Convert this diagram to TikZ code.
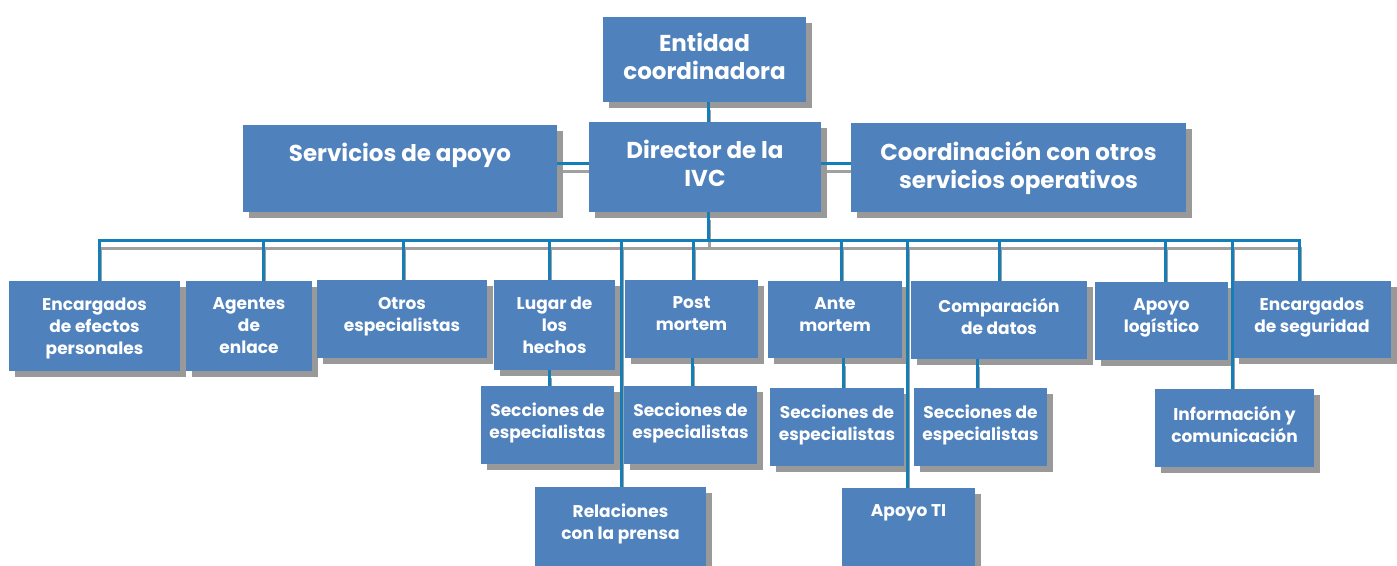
\documentclass[tikz,border=0pt]{standalone}
\usepackage{fontspec}
\setmainfont{Poppins}
\usetikzlibrary{fit,shadows}

\definecolor{boxblue}{RGB}{79,129,189}
\definecolor{shadowgray}{RGB}{153,153,153}
\definecolor{linkblue}{RGB}{20,126,184}
\definecolor{linkgray}{RGB}{160,160,160}

\pgfdeclarelayer{back}
\pgfsetlayers{back,main}

\tikzset{
  unit/.style={rectangle, fill=boxblue, inner sep=0pt,
    drop shadow={shadow xshift=6pt, shadow yshift=-6pt, fill=shadowgray, opacity=1}},
  caption/.style={anchor=north, text=white, align=center, inner sep=0pt, yshift=-#1,
    font=\bfseries\fontsize{17}{22}\selectfont},
  caption/.default=17pt,
  bigcaption/.style={caption=#1, font=\bfseries\fontsize{23}{28}\selectfont},
  bigcaption/.default=18pt,
  link/.style={line width=3pt, linkblue},
  linkshadow/.style={line width=3pt, linkgray, transform canvas={xshift=1pt, yshift=-8pt}}
}

% all connectors of the chart
\newcommand{\orglinks}{
  \draw ([xshift=3.5pt]entidad.south) -- ([xshift=3pt]director.north);
  \draw ([yshift=5.5pt]servicios.east) -- ([yshift=4pt]director.west);
  \draw ([yshift=4pt]director.east) -- ([yshift=4.5pt]coordinacion.west);
  \draw ([xshift=3pt]director.south) -- ++(0,28) coordinate (hub);
  \foreach \child/\dx in {efectos/4.5, agentes/14, otros/1, lugar/-5.5, post/1.5,
      ante/6, comparacion/0, logistico/3.5, seguridad/-13, prensa/0.5, apoyoti/-1.5, info/-2.5}
    \draw (hub) -| ([xshift=\dx pt]\child.north);
  \draw ([xshift=-5.5pt]lugar.south) -- ([xshift=1.5pt]seccLugar.north);
  \draw ([xshift=0.5pt]post.south) -- ([xshift=1.5pt]seccPost.north);
  \draw ([xshift=8pt]ante.south) -- ([xshift=6pt]seccAnte.north);
  \draw ([xshift=-21.5pt]comparacion.south) -- ([xshift=-3pt]seccComp.north);
}

\begin{document}
\begin{tikzpicture}[x=1pt, y=-1pt]
  \useasboundingbox (0,0) rectangle (1397,565);

  % top level
  \node[unit, fit={(603,17) (806,102)}, label={[bigcaption=16pt]90:Entidad\\coordinadora}] (entidad) {};
  \node[unit, fit={(243,125) (557,212)}, label={[bigcaption]90:Servicios de apoyo}] (servicios) {};
  \node[unit, fit={(589,122) (821,212)}, label={[bigcaption]90:Director de la\\IVC}] (director) {};
  \node[unit, fit={(851,123) (1186,212)}, label={[bigcaption]90:Coordinación con otros\\servicios operativos}] (coordinacion) {};

  % first row
  \node[unit, fit={(9,281) (180,371)}, label={[caption]90:Encargados\\de efectos\\personales}] (efectos) {};
  \node[unit, fit={(186,281) (312,371)}, label={[caption]90:Agentes\\de\\enlace}] (agentes) {};
  \node[unit, fit={(317,280) (487,358)}, label={[caption]90:Otros\\especialistas}] (otros) {};
  \node[unit, fit={(494,280) (615,370)}, label={[caption]90:Lugar de\\los\\hechos}] (lugar) {};
  \node[unit, fit={(625,280) (758,358)}, label={[caption]90:Post\\mortem}] (post) {};
  \node[unit, fit={(768,281) (902,358)}, label={[caption]90:Ante\\mortem}] (ante) {};
  \node[unit, fit={(911,281) (1087,359)}, label={[caption]90:Comparación\\de datos}] (comparacion) {};
  \node[unit, fit={(1095,282) (1228,360)}, label={[caption]90:Apoyo\\logístico}] (logistico) {};
  \node[unit, fit={(1233,281) (1391,358)}, label={[caption]90:Encargados\\de seguridad}] (seguridad) {};

  % second row
  \node[unit, fit={(481,386) (614,464)}, label={[caption]90:Secciones de\\especialistas}] (seccLugar) {};
  \node[unit, fit={(624,386) (757,464)}, label={[caption]90:Secciones de\\especialistas}] (seccPost) {};
  \node[unit, fit={(770,388) (904,466)}, label={[caption]90:Secciones de\\especialistas}] (seccAnte) {};
  \node[unit, fit={(914,388) (1047,466)}, label={[caption]90:Secciones de\\especialistas}] (seccComp) {};
  \node[unit, fit={(1155,389) (1314,467)}, label={[caption]90:Información y\\comunicación}] (info) {};

  % third row
  \node[unit, fit={(535,487) (706,580)}, label={[caption]90:Relaciones\\con la prensa}] (prensa) {};
  \node[unit, fit={(842,488) (975,580)}, label={[caption]90:Apoyo TI}] (apoyoti) {};

  % connectors, shadow under everything
  \begin{pgfonlayer}{back}
    \begin{scope}[linkshadow] \orglinks \end{scope}
  \end{pgfonlayer}
  \begin{scope}[link] \orglinks \end{scope}
\end{tikzpicture}
\end{document}
